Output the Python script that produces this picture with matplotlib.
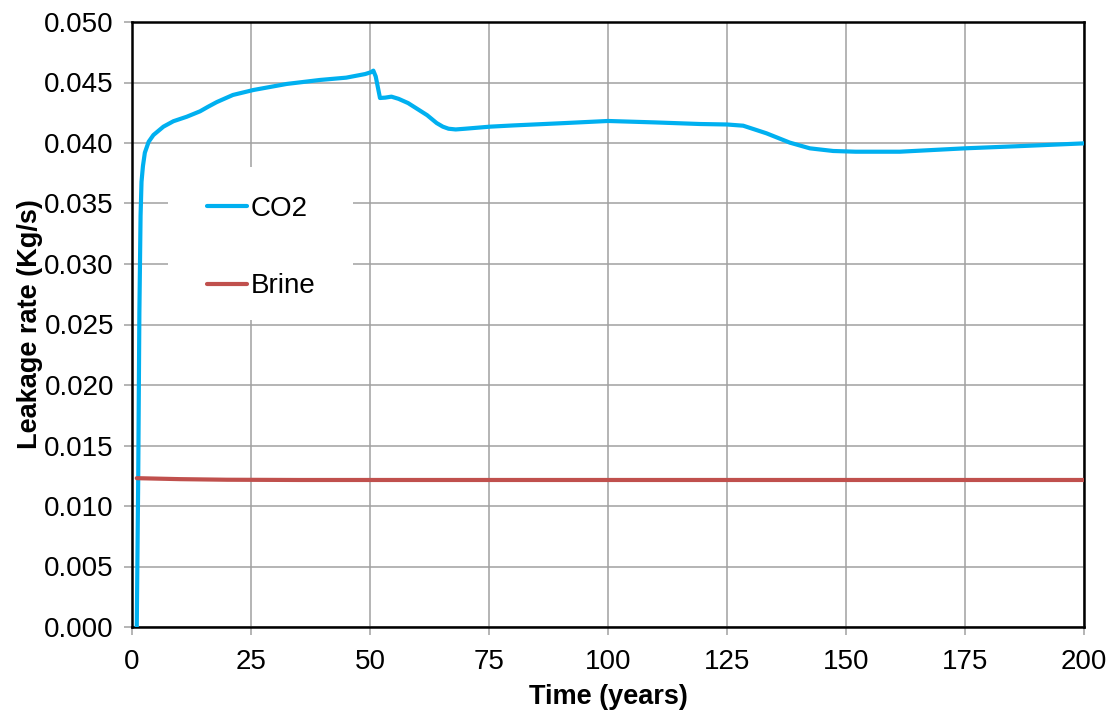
import matplotlib
matplotlib.use("Agg")
import matplotlib.pyplot as plt
from matplotlib.patches import Rectangle

plt.rcParams['font.family'] = ['Liberation Sans', 'DejaVu Sans']

# CO2 leakage rate (kg/s)
co2_time = [1.0, 1.3, 1.55, 1.8, 2.0, 2.3, 2.7, 3.5, 4.5, 6.6, 8.7, 11.5,
            14.3, 16.0, 17.8, 21.2, 25.5, 32.5, 39.5, 45, 49.0, 50.2, 50.7,
            51.2, 52.1, 53.2, 54.5, 56, 58, 60, 62, 64, 65.3, 66.5, 68, 70,
            75.2, 80, 90, 100, 110, 119.3, 125, 128.4, 133.3, 138.2, 142.4,
            147.3, 152, 161.3, 175, 187, 200]
co2_rate = [0.0, 0.0120, 0.0260, 0.0340, 0.0368, 0.0381, 0.0392, 0.0401,
            0.04066, 0.04135, 0.0418, 0.04217, 0.04262, 0.04300, 0.04338,
            0.04397, 0.04438, 0.04488, 0.04521, 0.0454, 0.0457, 0.04585,
            0.04598, 0.0455, 0.04372, 0.04375, 0.04383, 0.04365, 0.0433,
            0.0428, 0.0423, 0.04165, 0.04135, 0.04118, 0.04112, 0.04118,
            0.04135, 0.04145, 0.04163, 0.04182, 0.0417, 0.04157, 0.04153,
            0.04143, 0.0408, 0.04003, 0.03956, 0.03934, 0.03928, 0.03928,
            0.03956, 0.03975, 0.03997]

# Brine leakage rate (kg/s)
brine_time = [1.0, 10, 20, 35, 60, 100, 150, 200]
brine_rate = [0.0123, 0.01222, 0.01217, 0.01215, 0.01215, 0.01215, 0.01215,
              0.01215]

x_ticks = [0, 25, 50, 75, 100, 125, 150, 175, 200]
y_ticks = [0.000, 0.005, 0.010, 0.015, 0.020, 0.025, 0.030, 0.035, 0.040,
           0.045, 0.050]

fig = plt.figure(figsize=(11.09, 7.11), dpi=100)
ax = fig.add_axes([132 / 1109, 1 - 627 / 711, 952 / 1109, 605 / 711])

ax.plot(co2_time, co2_rate, color='#00B0F0', lw=3.0, label='CO2',
        solid_capstyle='round', solid_joinstyle='round', zorder=3)
ax.plot(brine_time, brine_rate, color='#C0504D', lw=3.0, label='Brine',
        solid_capstyle='round', zorder=3)

ax.set_xlim(0, 200)
ax.set_ylim(0, 0.05)
ax.set_xticks(x_ticks)
ax.set_yticks(y_ticks)
ax.set_yticklabels([f'{v:.3f}' for v in y_ticks])
ax.grid(True, color='#A0A0A0', lw=1.1, zorder=0)
ax.set_axisbelow(True)
ax.tick_params(axis='both', labelsize=20, direction='out', length=6,
               color='#A0A0A0', width=1.1, pad=7)
ax.tick_params(axis='x', pad=10)
for s in ax.spines.values():
    s.set_color('black')
    s.set_linewidth(1.8)

ax.set_xlabel('Time (years)', fontsize=19.5, fontweight='bold', labelpad=6)
ax.set_ylabel('Leakage rate (Kg/s)', fontsize=19.5, fontweight='bold',
              labelpad=1)

# white legend area hiding the grid, as in the reference
ax.add_patch(Rectangle((0.0378, 0.5074), 0.1943, 0.2529,
                       transform=ax.transAxes, facecolor='white',
                       edgecolor='none', zorder=2))
ax.legend(loc='upper left', bbox_to_anchor=(0.0788, 0.7125),
          borderaxespad=0, fontsize=20, frameon=False,
          handlelength=1.44, handletextpad=0.12, labelspacing=1.85,
          borderpad=0)

fig.savefig('out.png', dpi=100)
